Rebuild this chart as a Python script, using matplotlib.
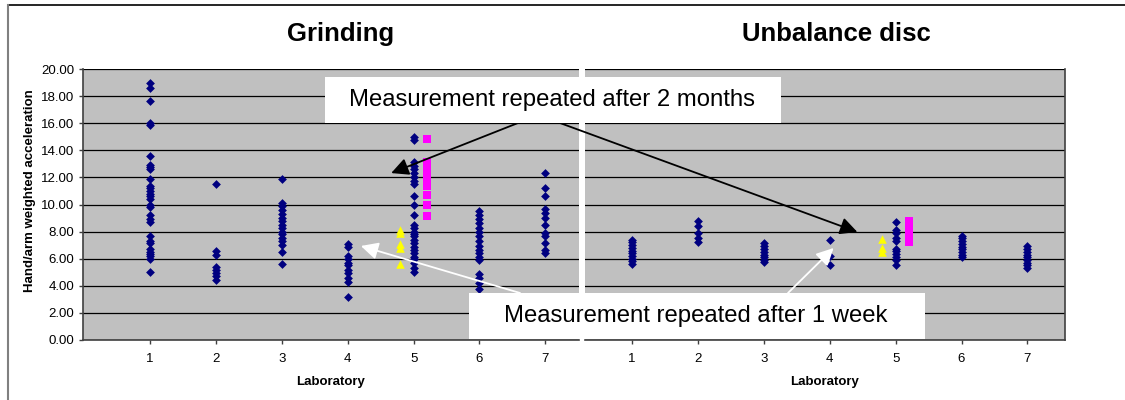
import matplotlib
matplotlib.use("Agg")
import matplotlib.pyplot as plt
from matplotlib.patches import Rectangle
from matplotlib.lines import Line2D

plt.rcParams['font.family'] = ['Liberation Sans', 'DejaVu Sans']

labs = [1, 2, 3, 4, 5, 6, 7]

# Grinding, values per laboratory
grind_lab1 = [19.0, 18.6, 17.65, 16.0, 15.85, 13.6, 12.95, 12.8, 12.6, 11.9, 11.35, 11.2, 11.0, 10.8,
              10.6, 10.4, 10.0, 9.85, 9.2, 8.9, 8.7, 7.65, 7.3, 7.15, 6.7, 6.5, 6.35, 6.2, 6.0, 5.05]
grind_lab2 = [11.5, 6.6, 6.3, 5.4, 5.2, 4.95, 4.7, 4.45]
grind_lab3 = [11.9, 10.1, 9.9, 9.6, 9.3, 9.0, 8.75, 8.5, 8.25, 8.0, 7.8, 7.5, 7.3, 7.0, 6.5, 5.6]
grind_lab4 = [7.1, 6.9, 6.2, 5.95, 5.7, 5.5, 5.2, 4.95, 4.6, 4.3, 3.15]
grind_lab5 = [14.95, 14.75, 13.1, 12.85, 12.6, 12.35, 12.05, 11.75, 11.5, 10.6, 9.95, 9.2, 8.5, 8.25,
              8.0, 7.85, 7.65, 7.4, 7.15, 6.9, 6.65, 6.4, 6.15, 5.95, 5.7, 5.3, 5.05]
grind_lab6 = [9.55, 9.2, 8.9, 8.6, 8.25, 7.95, 7.65, 7.3, 6.95, 6.65, 6.4, 6.1, 5.9, 4.9, 4.55, 4.2, 3.8]
grind_lab7 = [12.35, 11.2, 10.6, 9.65, 9.35, 9.0, 8.5, 7.9, 7.7, 7.15, 6.65, 6.4]
grind_week = [8.15, 7.9, 7.05, 6.8, 5.6]          # lab 5 repeated after 1 week
grind_months = [14.85, 13.1, 12.8, 12.5, 12.2, 11.9, 11.6, 11.35, 10.7, 9.95, 9.15]  # after 2 months

# Unbalance disc
unbal_lab1 = [7.4, 7.2, 7.0, 6.8, 6.6, 6.4, 6.2, 6.0, 5.8, 5.6]
unbal_lab2 = [8.75, 8.45, 7.9, 7.55, 7.2]
unbal_lab3 = [7.15, 6.95, 6.75, 6.5, 6.3, 6.1, 5.9, 5.75]
unbal_lab4 = [7.35, 6.2, 5.5]
unbal_lab5 = [8.7, 8.15, 7.9, 7.55, 7.3, 6.7, 6.55, 6.35, 6.15, 5.9, 5.5]
unbal_lab6 = [7.7, 7.5, 7.3, 7.1, 6.9, 6.7, 6.5, 6.3, 6.1]
unbal_lab7 = [6.95, 6.7, 6.5, 6.3, 6.1, 5.9, 5.7, 5.5, 5.35]
unbal_week = [7.45, 6.8, 6.5]
unbal_months = [8.8, 8.5, 8.2, 7.9, 7.55, 7.25]

grind = [grind_lab1, grind_lab2, grind_lab3, grind_lab4, grind_lab5, grind_lab6, grind_lab7]
unbal = [unbal_lab1, unbal_lab2, unbal_lab3, unbal_lab4, unbal_lab5, unbal_lab6, unbal_lab7]

W, H = 1125, 400
fig = plt.figure(figsize=(W / 100, H / 100), dpi=100)

ax1 = fig.add_axes([83 / W, 60 / H, 496 / W, 271 / H])
ax2 = fig.add_axes([585 / W, 60 / H, 480 / W, 271 / H])


def style(ax, xlim):
    ax.set_facecolor('#c0c0c0')
    ax.set_xlim(*xlim)
    ax.set_ylim(0, 20)
    ax.set_yticks(range(0, 21, 2))
    ax.set_xticks(labs)
    ax.set_xticklabels([str(l) for l in labs], fontsize=9.5)
    ax.yaxis.grid(True, color='black', lw=0.9)
    ax.set_axisbelow(True)
    for s in ax.spines.values():
        s.set_color('#404040')
        s.set_linewidth(1.2)
    ax.spines['top'].set_visible(False)
    ax.tick_params(axis='x', length=3, width=1, color='#404040', pad=6)
    ax.tick_params(axis='y', length=3, width=1, color='#404040', labelsize=9.5)
    ax.set_xlabel('Laboratory', fontsize=9.5, fontweight='bold', labelpad=8)


def draw(ax, groups, week, months):
    for lab, vals in zip(labs, groups):
        ax.scatter([lab] * len(vals), vals, marker='D', s=20, color='#000080', zorder=3, lw=0)
    ax.scatter([4.8] * len(week), week, marker='^', s=38, color='#ffff00', zorder=3, lw=0)
    ax.scatter([5.2] * len(months), months, marker='s', s=26, color='#ff00ff', zorder=3, lw=0)


style(ax1, (-0.017, 7.51))
style(ax2, (0.288, 7.57))
ax1.spines['right'].set_visible(False)
ax2.spines['left'].set_visible(False)
ax2.tick_params(axis='y', left=False, labelleft=False)
ax1.yaxis.set_major_formatter(matplotlib.ticker.FormatStrFormatter('%.2f'))
ax1.set_ylabel('Hand/arm weighted acceleration', fontsize=9.5, fontweight='bold')
ax1.yaxis.set_label_coords(-0.095, 0.55)

draw(ax1, grind, grind_week, grind_months)
draw(ax2, unbal, unbal_week, unbal_months)

fig.text(341 / W, 1 - 34 / H, 'Grinding', fontsize=18.5, fontweight='bold', ha='center', va='center')
fig.text(836 / W, 1 - 34 / H, 'Unbalance disc', fontsize=18.5, fontweight='bold', ha='center', va='center')

# outer frame
fig.add_artist(Line2D([8 / W, 1], [1 - 5 / H, 1 - 5 / H], color='black', lw=1.2))
fig.add_artist(Line2D([8 / W, 8 / W], [0, 1 - 5 / H], color='#808080', lw=1.5))

# arrows
arw = dict(arrowstyle='-|>', mutation_scale=26, lw=1.3, shrinkA=0, shrinkB=0)
ax1.annotate('', xy=(4.66, 12.32), xytext=(518 / W, 1 - 123 / H), textcoords='figure fraction',
             arrowprops=dict(arw, color='black'), annotation_clip=False)
ax2.annotate('', xy=(4.42, 7.97), xytext=(560 / W, 1 - 123 / H), textcoords='figure fraction',
             arrowprops=dict(arw, color='black'), annotation_clip=False, zorder=5)
ax1.annotate('', xy=(4.20, 6.94), xytext=(520 / W, 1 - 293 / H), textcoords='figure fraction',
             arrowprops=dict(arw, color='white'), annotation_clip=False, zorder=5)
ax2.annotate('', xy=(4.06, 6.79), xytext=(788 / W, 1 - 293 / H), textcoords='figure fraction',
             arrowprops=dict(arw, color='white'), annotation_clip=False, zorder=5)

# callout boxes
fig.add_artist(Rectangle((325 / W, 1 - 123 / H), 456 / W, 46 / H, transform=fig.transFigure,
                         facecolor='white', edgecolor='none', zorder=6))
fig.text(552 / W, 1 - 100 / H, 'Measurement repeated after 2 months', ha='center', va='center',
         fontsize=17.2, zorder=7)
fig.add_artist(Rectangle((469 / W, 1 - 339 / H), 456 / W, 46 / H, transform=fig.transFigure,
                         facecolor='white', edgecolor='none', zorder=6))
fig.text(696 / W, 1 - 316 / H, 'Measurement repeated after 1 week', ha='center', va='center',
         fontsize=17.2, zorder=7)

fig.savefig('out.png', dpi=100)
